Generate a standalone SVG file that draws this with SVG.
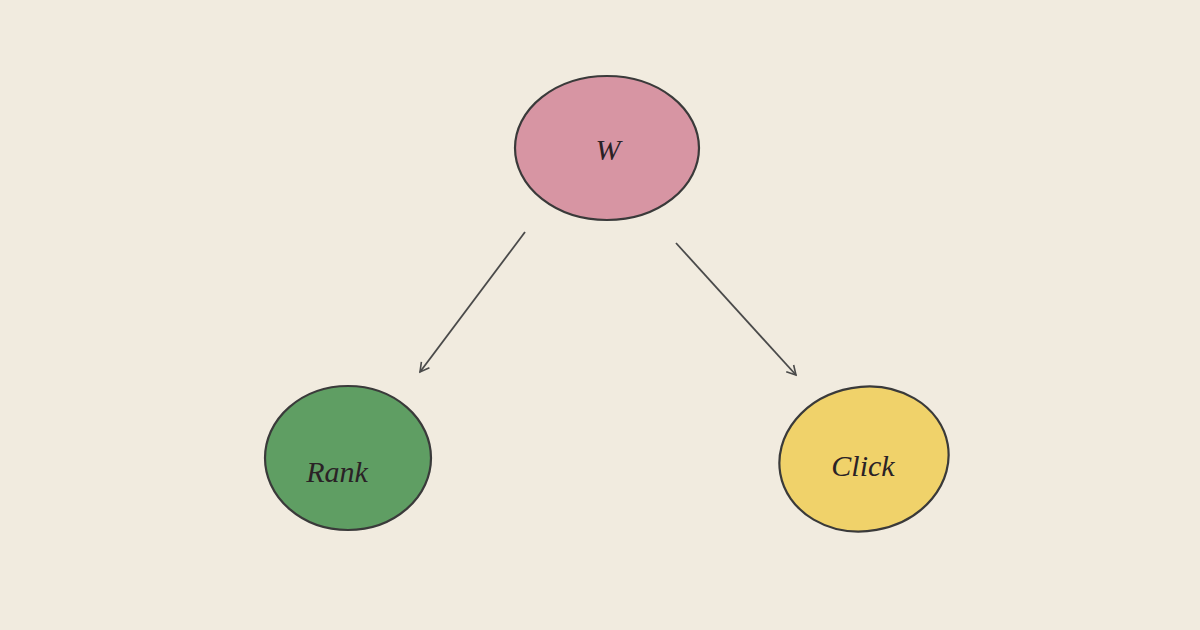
<svg xmlns="http://www.w3.org/2000/svg" width="1200" height="630" viewBox="0 0 1200 630">
<style>
.node{stroke:#3a3a3a;stroke-width:2.2}
.lbl{font-family:"Liberation Serif",serif;font-style:italic;font-size:30px;fill:#2a2226;text-anchor:middle}
.edge{stroke:#4a4a4a;stroke-width:1.8;fill:none;marker-end:url(#ah)}
</style>
<defs>
<marker id="ah" viewBox="0 0 12 12" refX="10" refY="6" markerWidth="12" markerHeight="12" markerUnits="userSpaceOnUse" orient="auto">
<path d="M1,1 L10,6 L1,11" fill="none" stroke="#4a4a4a" stroke-width="1.6"/>
</marker>
</defs>
<rect width="1200" height="630" fill="#f1ebdf"/>
<g id="connectors">
<line class="edge" x1="525" y1="232" x2="420" y2="372"/>
<line class="edge" x1="676" y1="243" x2="796" y2="375"/>
</g>
<g id="node-w">
<ellipse class="node" cx="607" cy="148" rx="92" ry="72" fill="#d795a3"/>
<text class="lbl" x="608" y="160">W</text>
</g>
<g id="node-rank">
<ellipse class="node" cx="348" cy="458" rx="83" ry="72" fill="#5f9e63"/>
<text class="lbl" x="337" y="482">Rank</text>
</g>
<g id="node-click">
<ellipse class="node" cx="864" cy="459" rx="85" ry="72" fill="#f0d26a" transform="rotate(-10 864 459)"/>
<text class="lbl" x="863" y="476">Click</text>
</g>
</svg>
